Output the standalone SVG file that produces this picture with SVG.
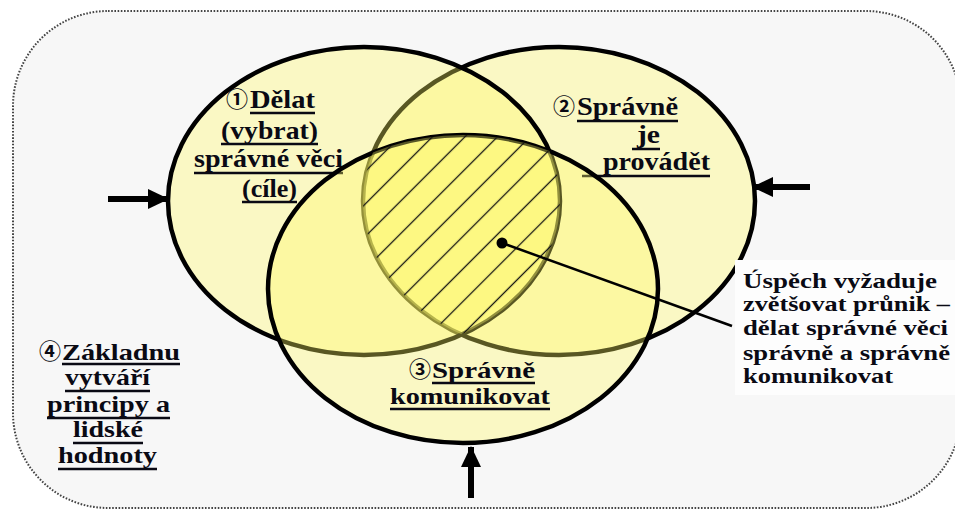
<svg xmlns="http://www.w3.org/2000/svg" width="955" height="510" viewBox="0 0 955 510">
  <style>
    .set { fill: #fffa64; fill-opacity: 0.35; stroke: #000; stroke-width: 4.5; }
    .lbl { font-family: "Liberation Serif", "Times New Roman", serif; font-weight: bold; font-size: 25px; fill: #0a0a14; }
    .sm { font-size: 22.5px; }
    .note { font-family: "Liberation Serif", "Times New Roman", serif; font-weight: bold; font-size: 21px; fill: #0a0a14; }
    .num { font-family: "Noto Sans CJK JP", "DejaVu Sans", sans-serif; font-weight: bold; font-size: 22px; fill: #0a0a14; }
    .ul { stroke: #0a0a14; stroke-width: 2.5; }
    .arrow { stroke: #000; stroke-width: 6; fill: none; marker-end: url(#head); }
  </style>
  <defs>
    <marker id="head" markerUnits="userSpaceOnUse" markerWidth="22" markerHeight="20" refX="20" refY="10" orient="auto">
      <path d="M0,0 L21,10 L0,20 Z" fill="#000"/>
    </marker>
    <pattern id="hatch" patternUnits="userSpaceOnUse" width="23" height="23" patternTransform="rotate(-45)">
      <line x1="0" y1="11.5" x2="23" y2="11.5" stroke="#111" stroke-width="1.3"/>
    </pattern>
    <clipPath id="clip-left"><ellipse cx="364" cy="201" rx="196" ry="154"/></clipPath>
    <clipPath id="clip-right"><ellipse cx="559" cy="201" rx="196" ry="154"/></clipPath>
    <clipPath id="clip-bottom"><ellipse cx="463" cy="289" rx="195" ry="154"/></clipPath>
  </defs>

  <!-- page background -->
  <rect x="0" y="0" width="955" height="510" fill="#fff"/>
  <rect x="13" y="11" width="948" height="497" rx="95" ry="95" fill="#f7f7f7" stroke="#444" stroke-width="2" stroke-dasharray="1.6 1.6"/>

  <!-- 2: doing it right -->
  <g id="execution">
    <ellipse class="set" cx="559" cy="201" rx="196" ry="154"/>
    <text class="num" x="553" y="114">②</text>
    <text class="lbl" x="577" y="115" textLength="101" lengthAdjust="spacingAndGlyphs">Správně</text>
    <line class="ul" x1="577" y1="121" x2="678" y2="121"/>
    <text class="lbl" x="637" y="143" textLength="23" lengthAdjust="spacingAndGlyphs">je</text>
    <line class="ul" x1="632" y1="149" x2="660" y2="149"/>
    <text class="lbl" x="603" y="170" textLength="107" lengthAdjust="spacingAndGlyphs">provádět</text>
    <line class="ul" x1="582" y1="176" x2="710" y2="176"/>
  </g>

  <!-- 1: doing the right things -->
  <g id="goals">
    <ellipse class="set" cx="364" cy="201" rx="196" ry="154"/>
    <text class="num" x="226" y="107">①</text>
    <text class="lbl" x="250" y="108" textLength="65" lengthAdjust="spacingAndGlyphs">Dělat</text>
    <line class="ul" x1="250" y1="113" x2="315" y2="113"/>
    <text class="lbl" x="221" y="139" textLength="97" lengthAdjust="spacingAndGlyphs">(vybrat)</text>
    <line class="ul" x1="221" y1="144" x2="318" y2="144"/>
    <text class="lbl" x="194" y="167" textLength="149" lengthAdjust="spacingAndGlyphs">správné věci</text>
    <line class="ul" x1="194" y1="173" x2="343" y2="173"/>
    <text class="lbl" x="242" y="197" textLength="55" lengthAdjust="spacingAndGlyphs">(cíle)</text>
    <line class="ul" x1="242" y1="202" x2="297" y2="202"/>
  </g>

  <!-- 3: communicating right -->
  <g id="communication">
    <ellipse class="set" cx="463" cy="289" rx="195" ry="154"/>
    <text class="num" x="409" y="377">③</text>
    <text class="lbl sm" x="432" y="378" textLength="103" lengthAdjust="spacingAndGlyphs">Správně</text>
    <line class="ul" x1="432" y1="383" x2="535" y2="383"/>
    <text class="lbl sm" x="390" y="404" textLength="160" lengthAdjust="spacingAndGlyphs">komunikovat</text>
    <line class="ul" x1="390" y1="409" x2="550" y2="409"/>
  </g>

  <!-- hatched common core of all three sets -->
  <g id="core">
    <g clip-path="url(#clip-left)">
      <g clip-path="url(#clip-right)">
        <g clip-path="url(#clip-bottom)">
          <rect x="340" y="120" width="240" height="230" fill="#fbf870" fill-opacity="0.35"/>
          <rect x="340" y="120" width="240" height="230" fill="url(#hatch)"/>
        </g>
      </g>
    </g>
  </g>

  <!-- 4: foundation -->
  <g id="values">
    <text class="num" x="39" y="359">④</text>
    <text class="lbl sm" x="62" y="360" textLength="118" lengthAdjust="spacingAndGlyphs">Základnu</text>
    <line class="ul" x1="62" y1="364" x2="180" y2="364"/>
    <text class="lbl sm" x="65" y="385" textLength="85" lengthAdjust="spacingAndGlyphs">vytváří</text>
    <line class="ul" x1="65" y1="391" x2="150" y2="391"/>
    <text class="lbl sm" x="47" y="412" textLength="123" lengthAdjust="spacingAndGlyphs">principy a</text>
    <line class="ul" x1="47" y1="418" x2="170" y2="418"/>
    <text class="lbl sm" x="73" y="437" textLength="70" lengthAdjust="spacingAndGlyphs">lidské</text>
    <line class="ul" x1="73" y1="443" x2="143" y2="443"/>
    <text class="lbl sm" x="58" y="463" textLength="99" lengthAdjust="spacingAndGlyphs">hodnoty</text>
    <line class="ul" x1="58" y1="469" x2="157" y2="469"/>
  </g>

  <!-- callout text -->
  <g id="note">
    <rect x="735" y="260" width="220" height="135" fill="#fdfdfd"/>
    <text class="note" x="743" y="288" textLength="194" lengthAdjust="spacingAndGlyphs">Úspěch vyžaduje</text>
    <text class="note" x="743" y="311" textLength="207" lengthAdjust="spacingAndGlyphs">zvětšovat průnik –</text>
    <text class="note" x="743" y="335" textLength="205" lengthAdjust="spacingAndGlyphs">dělat správné věci</text>
    <text class="note" x="743" y="360" textLength="207" lengthAdjust="spacingAndGlyphs">správně a správně</text>
    <text class="note" x="743" y="383" textLength="150" lengthAdjust="spacingAndGlyphs">komunikovat</text>
  </g>

  <!-- connectors -->
  <g id="connectors">
    <line class="arrow" x1="108" y1="199" x2="168" y2="199"/>
    <line class="arrow" x1="810" y1="187" x2="753" y2="187"/>
    <line class="arrow" x1="471" y1="498" x2="471" y2="447"/>
    <line x1="502" y1="243" x2="732" y2="326" stroke="#000" stroke-width="2.5"/>
    <circle cx="502" cy="243" r="5.5" fill="#000"/>
  </g>
</svg>
